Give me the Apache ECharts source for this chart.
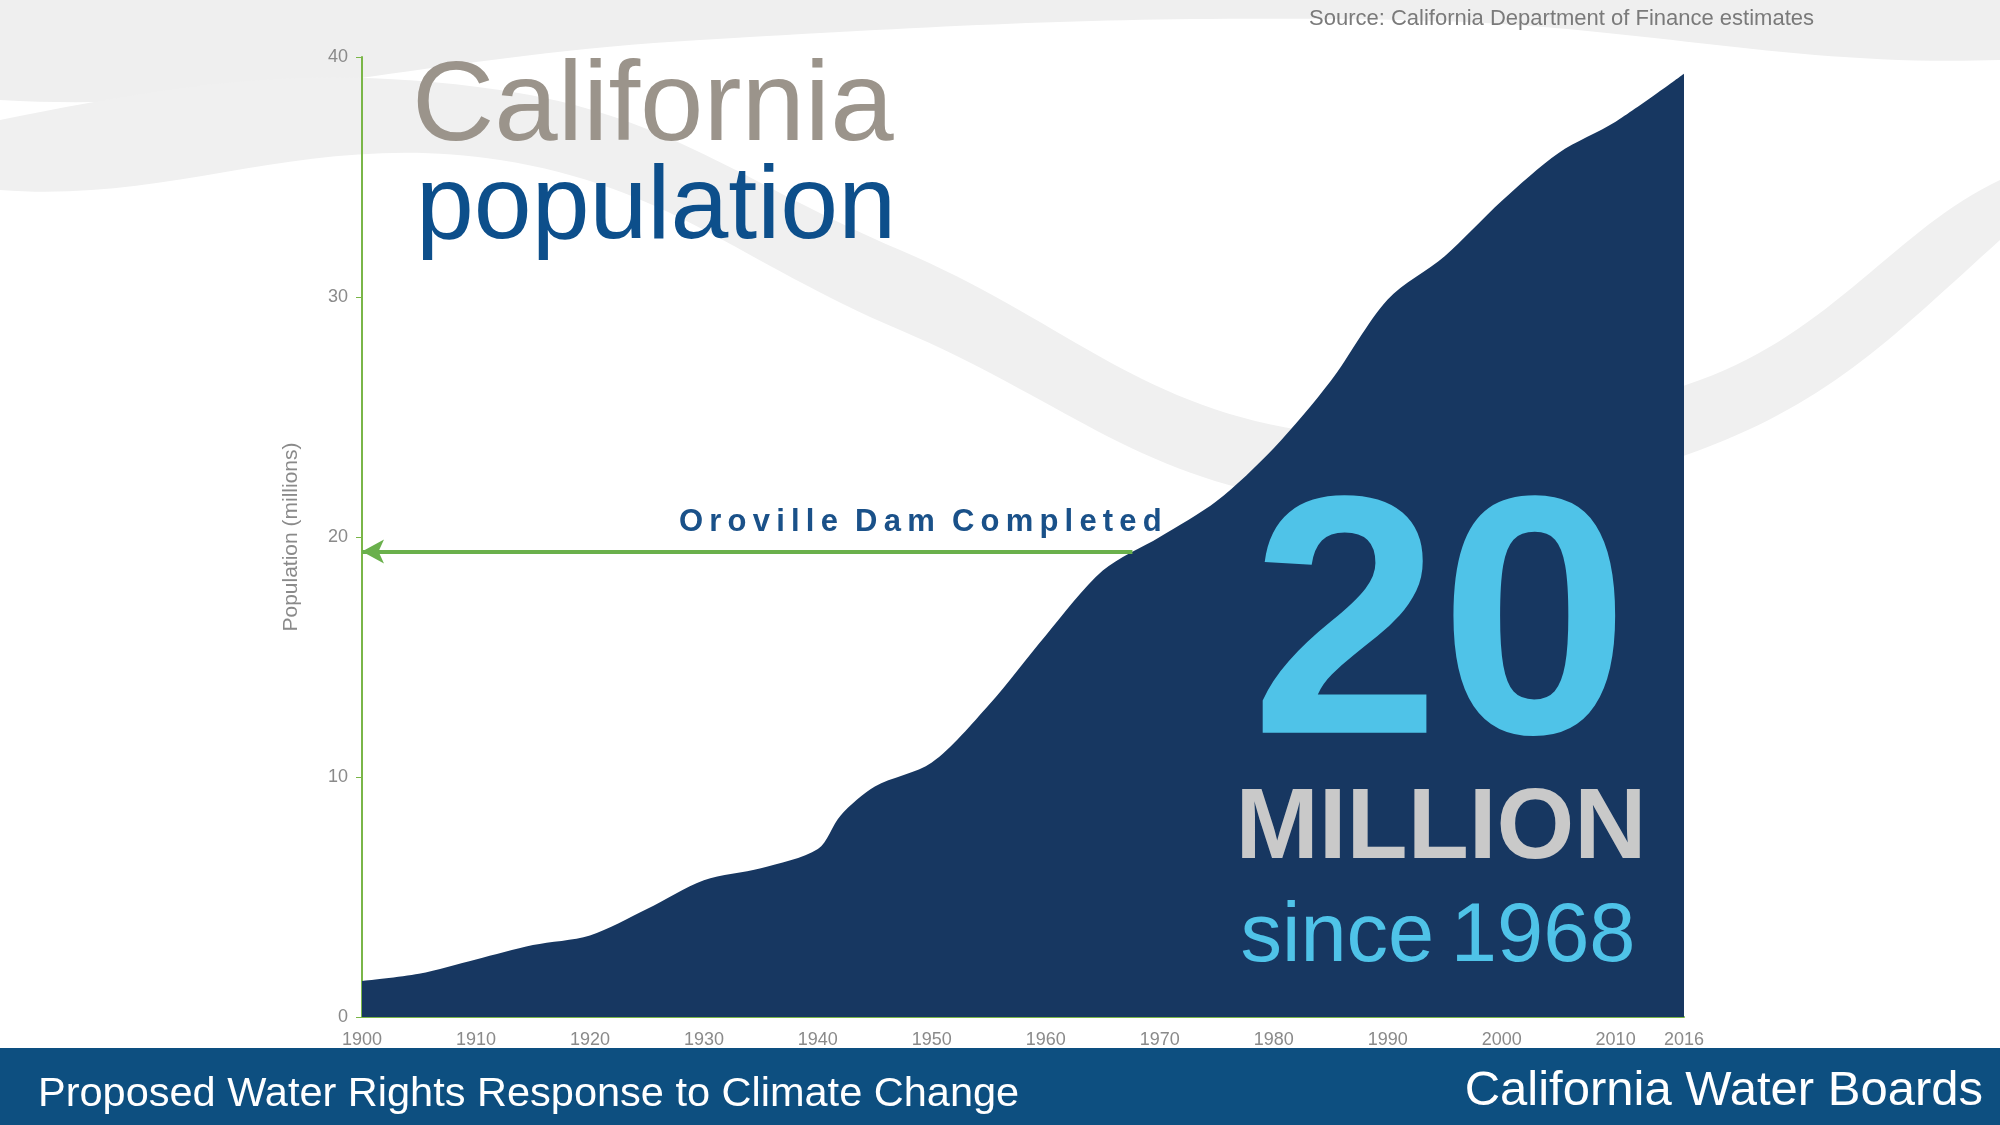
<!DOCTYPE html>
<html><head><meta charset="utf-8">
<script src="https://cdn.jsdelivr.net/npm/echarts@6/dist/echarts.min.js"></script>
<style>html,body{margin:0;padding:0;background:#fff}#c{width:2000px;height:1125px}</style>
</head><body><div id="c"></div>
<script>
const years = [1900,1905,1910,1915,1920,1925,1930,1935,1940,1942,1945,1950,1955,1960,1965,1970,1975,1980,1985,1990,1995,2000,2005,2010,2016];
const population = [1.5,1.8,2.4,3.0,3.4,4.5,5.7,6.2,7.0,8.4,9.6,10.6,13.0,15.9,18.6,20.0,21.5,23.7,26.5,29.9,31.7,34.0,36.0,37.3,39.3];
const xTicks = [1900,1910,1920,1930,1940,1950,1960,1970,1980,1990,2000,2010,2016];
const damYear = 1967.6, damPop = 19.4;

const chart = echarts.init(document.getElementById('c'));
const F = 'Liberation Sans, Arial, sans-serif';
const spaced = s => s.split('').join('\u2009');
chart.setOption({
  animation:false,
  backgroundColor:'#fff',
  grid:{left:362,right:316,top:57,bottom:108},
  xAxis:{type:'value',min:1900,max:2016,
    axisLine:{lineStyle:{color:'#7ab648',width:2}},axisTick:{show:false},splitLine:{show:false},
    axisLabel:{customValues:xTicks,formatter:v=>String(v),color:'#8a8a8a',fontSize:18,fontFamily:F,margin:14}},
  yAxis:{type:'value',min:0,max:40,interval:10,name:'Population (millions)',nameLocation:'middle',nameGap:60,
    nameTextStyle:{color:'#8a8a8a',fontSize:21,fontFamily:F},
    axisLine:{show:true,lineStyle:{color:'#7ab648',width:2}},axisTick:{show:true,length:6,lineStyle:{color:'#7ab648'}},splitLine:{show:false},
    axisLabel:{color:'#8a8a8a',fontSize:18,fontFamily:F,margin:14}},
  graphic:[
    {type:'polygon',z:-10,shape:{smooth:0.4,points:[[0,0],[2000,0],[2000,60],[1400,20],[700,40],[0,100]]},style:{fill:'#efefef'}},
    {type:'polygon',z:-10,shape:{smooth:0.4,points:[[0,120],[500,90],[900,250],[1300,430],[1700,380],[2000,180],[2000,240],[1700,450],[1300,500],[900,330],[500,160],[0,190]]},style:{fill:'#f0f0f0'}},
    {type:'rect',shape:{x:0,y:1048,width:2000,height:77},style:{fill:'#0d4f80'}},
    {type:'text',left:38,top:1074,style:{text:'Proposed Water Rights Response to Climate Change',fill:'#fff',font:'41.5px '+F}},
    {type:'text',right:17,top:1067,style:{text:'California Water Boards',fill:'#fff',font:'49px '+F}},
    {type:'text',right:186,top:8,style:{text:'Source: California Department of Finance estimates',fill:'#7a7a7a',font:'22px '+F}},
    {type:'text',left:412,top:52,style:{text:'California',fill:'#9b948b',font:'114px '+F}},
    {type:'text',left:416,top:157,style:{text:'population',fill:'#0d4f8b',font:'104px '+F}},
    {type:'text',left:679,top:507,style:{text:spaced('Oroville')+'  '+spaced('Dam')+'  '+spaced('Completed'),fill:'#1a5189',font:'bold 31px '+F}},
    {type:'text',x:1440,y:809,z:50,style:{text:'20',fill:'#4fc3e8',font:'bold 340px '+F,textAlign:'center',textVerticalAlign:'bottom'}},
    {type:'text',x:1441,y:880,z:50,style:{text:'MILLION',fill:'#c9c9c9',font:'bold 100px '+F,textAlign:'center',textVerticalAlign:'bottom'}},
    {type:'text',x:1438,y:980,z:50,style:{text:'since\u20091968',fill:'#4fc3e8',font:'83px '+F,textAlign:'center',textVerticalAlign:'bottom'}}
  ],
  series:[{type:'line',data:years.map((y,i)=>[y,population[i]]),smooth:0.3,symbol:'none',
    lineStyle:{width:0},areaStyle:{color:'#173761',opacity:1},
    markLine:{silent:true,symbol:['none','arrow'],symbolSize:[18,22],label:{show:false},
      lineStyle:{color:'#6ab04c',width:4,type:'solid'},
      data:[[{coord:[damYear,damPop]},{coord:[1900,damPop]}]]}
  }]
});
</script></body></html>
